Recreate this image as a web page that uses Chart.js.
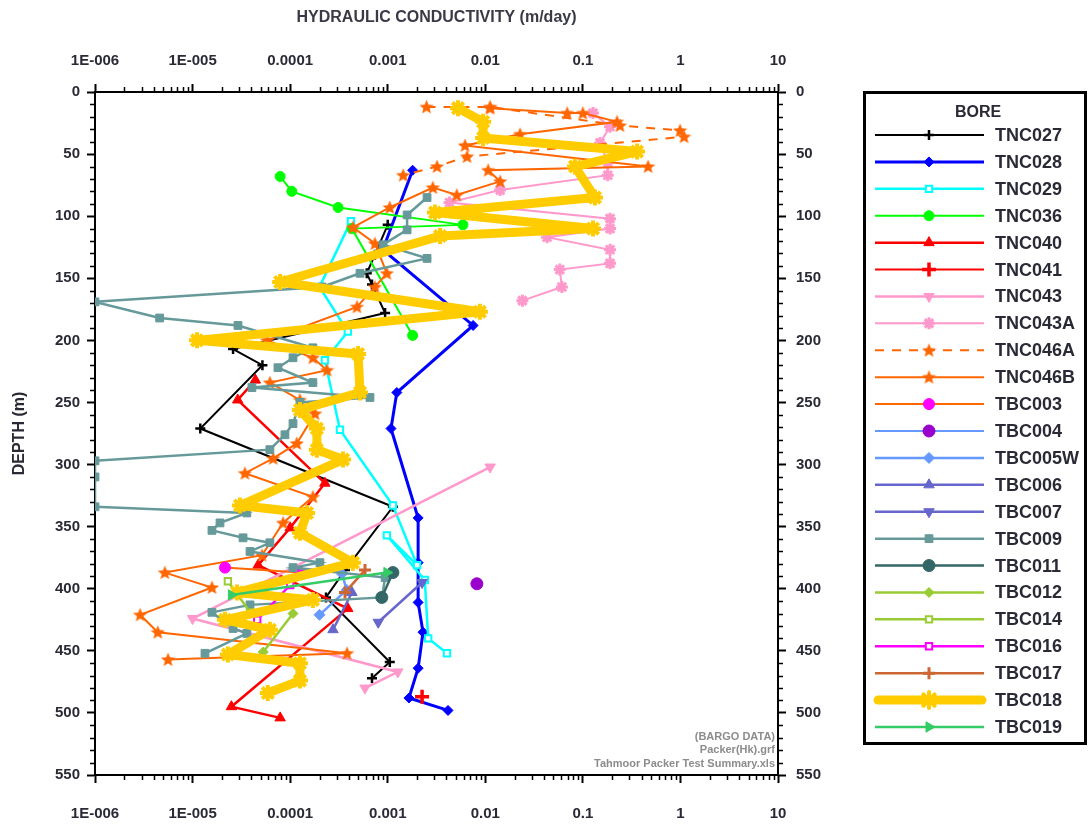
<!DOCTYPE html>
<html>
<head>
<meta charset="utf-8">
<script src="https://cdn.jsdelivr.net/npm/chart.js@4/dist/chart.umd.min.js"></script>
<style>
  html, body { margin: 0; padding: 0; background: #ffffff; }
  canvas { display: block; }
</style>
</head>
<body>
<canvas id="chart" width="1088" height="828"></canvas>
<script>
// Axis ticks
const xTickValues = [1e-6, 1e-5, 1e-4, 1e-3, 1e-2, 1e-1, 1, 10];
const xTickLabels = ['1E-006', '1E-005', '0.0001', '0.001', '0.01', '0.1', '1', '10'];
const depthTicks = [0, 50, 100, 150, 200, 250, 300, 350, 400, 450, 500, 550];

// Bores, in legend order
const boreNames = ['TNC027', 'TNC028', 'TNC029', 'TNC036', 'TNC040', 'TNC041', 'TNC043', 'TNC043A',
  'TNC046A', 'TNC046B', 'TBC003', 'TBC004', 'TBC005W', 'TBC006', 'TBC007', 'TBC009', 'TBC011',
  'TBC012', 'TBC014', 'TBC016', 'TBC017', 'TBC018', 'TBC019'];

// Test depth (m) and hydraulic conductivity (m/day) for each bore
const tnc027Depth = [107, 131, 146, 155, 178, 207, 220, 271, 334, 385, 407, 459, 472];
const tnc027K = [1.0e-3, 7.4e-4, 6.1e-4, 6.9e-4, 9.4e-4, 2.6e-5, 5.2e-5, 1.2e-5, 1.13e-3, 3.65e-4, 2.33e-4, 1.05e-3, 6.9e-4];

const tnc028Depth = [63, 127, 188, 242, 271, 343, 379, 411, 435, 464, 488, 498];
const tnc028K = [1.8e-3, 8.9e-4, 7.5e-3, 1.24e-3, 1.08e-3, 2.05e-3, 2.05e-3, 2.05e-3, 2.3e-3, 2.05e-3, 1.65e-3, 4.15e-3];

const tnc029Depth = [104, 157, 193, 216, 272, 333, 381, 357, 393, 440, 452];
const tnc029K = [4.2e-4, 2.0e-4, 3.9e-4, 2.27e-4, 3.24e-4, 1.13e-3, 2.0e-3, 9.8e-4, 2.4e-3, 2.6e-3, 4.05e-3];

const tnc036Depth = [68, 80, 93, 107, 110, 196];
const tnc036K = [7.9e-5, 1.04e-4, 3.1e-4, 5.9e-3, 4.3e-4, 1.8e-3];

const tnc040Depth = [232, 248, 315, 351, 381, 416, 495, 504];
const tnc040K = [4.4e-5, 2.9e-5, 2.27e-4, 1.0e-4, 4.7e-5, 3.9e-4, 2.5e-5, 7.9e-5];

const tnc041Depth = [487];
const tnc041K = [2.25e-3];

const tnc043Depth = [302, 424, 467, 480];
const tnc043K = [1.12e-2, 1.0e-5, 1.27e-3, 5.85e-4];

const tnc043aDepth = [17, 28, 41, 57, 67, 79, 89, 102, 110, 117, 127, 138, 143, 157, 168];
const tnc043aK = [0.127, 0.19, 0.15, 0.18, 0.18, 0.0142, 0.0043, 0.19, 0.19, 0.043, 0.19, 0.19, 0.058, 0.061, 0.024];

const tnc046aDepth = [12, 12, 27, 31, 36, 52, 60, 67];
const tnc046aK = [2.5e-3, 1.12e-2, 0.24, 0.99, 1.09, 6.5e-3, 3.2e-3, 1.44e-3];

const tnc046bDepth = [13, 17, 17, 24, 34, 43, 60, 63, 72, 83, 77, 93, 109, 122, 146, 157, 173, 200, 214, 224,
  234, 248, 259, 283, 295, 307, 326, 347, 373, 387, 399, 421, 435, 452, 457];
const tnc046bK = [1.12e-2, 6.9e-2, 0.1, 0.224, 2.27e-2, 6.2e-3, 0.466, 1.07e-2, 1.42e-2, 5.1e-3, 2.9e-3, 1.05e-3,
  4.4e-4, 7.4e-4, 9.8e-4, 7.4e-4, 4.84e-4, 5.8e-5, 1.71e-4, 2.39e-4, 6.2e-5, 1.26e-4, 1.8e-4, 1.17e-4, 6.7e-5,
  3.44e-5, 1.71e-4, 8.45e-5, 5.15e-5, 5.2e-6, 1.58e-5, 2.9e-6, 4.4e-6, 3.83e-4, 5.6e-6];

const tbc003Depth = [383, 387];
const tbc003K = [2.15e-5, 1.26e-4];

const tbc004Depth = [396];
const tbc004K = [8.2e-3];

const tbc005wDepth = [388, 401, 421];
const tbc005wK = [3.4e-4, 3.8e-4, 2.0e-4];

const tbc006Depth = [403, 433];
const tbc006K = [4.3e-4, 2.75e-4];

const tbc007Depth = [395, 427];
const tbc007K = [2.25e-3, 8.0e-4];

const tbc009Depth = [85, 99, 111, 123, 134, 146, 157, 169, 182, 188, 206, 214, 222, 234, 238, 246, 250, 267, 276, 288,
  297, 310, 334, 339, 347, 353, 359, 363, 370, 379, 383, 391, 407, 413, 419, 432, 436, 452];
const tbc009K = [2.53e-3, 1.58e-3, 1.58e-3, 8.95e-4, 2.53e-3, 5.2e-4, 2.12e-4, 1e-6, 4.6e-6, 2.92e-5,
  1.71e-4, 1.07e-4, 7.5e-5, 1.71e-4, 4.06e-5, 6.58e-4, 1.26e-4, 1.07e-4, 8.85e-5, 6.2e-5,
  1e-6, 1e-6, 1e-6, 3.6e-5, 1.91e-5, 1.58e-5, 3.29e-5, 6.2e-5, 3.88e-5, 2.02e-4,
  1.07e-4, 9.4e-4, 8.75e-4, 3.88e-5, 1.58e-5, 2.6e-5, 3.6e-5, 1.34e-5];

const tbc011Depth = [387, 407];
const tbc011K = [1.13e-3, 8.7e-4];

const tbc012Depth = [420, 451];
const tbc012K = [1.07e-4, 5.3e-5];

const tbc014Depth = [394, 419];
const tbc014K = [2.3e-5, 3.9e-5];

const tbc016Depth = [397, 425];
const tbc016K = [1.0e-4, 4.6e-5];

const tbc017Depth = [385, 403];
const tbc017K = [5.85e-4, 3.65e-4];

const tbc018Depth = [13, 24, 37, 48, 60, 85, 97, 110, 116, 153, 177, 200, 211, 242, 256, 271, 288, 296, 333, 339,
  355, 379, 403, 409, 425, 433, 453, 460, 474, 484];
const tbc018K = [5.25e-3, 9.5e-3, 9.5e-3, 0.359, 0.083, 0.133, 3.05e-3, 0.127, 3.44e-3, 7.9e-5,
  8.8e-3, 1.11e-5, 4.97e-4, 5.2e-4, 1.26e-4, 1.88e-4, 1.88e-4, 3.48e-4, 3.06e-5, 1.49e-4,
  1.26e-4, 4.4e-4, 2.85e-5, 1.71e-4, 2.15e-5, 6.2e-5, 2.3e-5, 1.26e-4, 1.26e-4, 5.9e-5];

const tbc019Depth = [387, 405];
const tbc019K = [9.8e-4, 2.5e-5];

const boreDepths = [tnc027Depth, tnc028Depth, tnc029Depth, tnc036Depth, tnc040Depth, tnc041Depth, tnc043Depth,
  tnc043aDepth, tnc046aDepth, tnc046bDepth, tbc003Depth, tbc004Depth, tbc005wDepth, tbc006Depth, tbc007Depth,
  tbc009Depth, tbc011Depth, tbc012Depth, tbc014Depth, tbc016Depth, tbc017Depth, tbc018Depth, tbc019Depth];
const boreK = [tnc027K, tnc028K, tnc029K, tnc036K, tnc040K, tnc041K, tnc043K, tnc043aK, tnc046aK, tnc046bK,
  tbc003K, tbc004K, tbc005wK, tbc006K, tbc007K, tbc009K, tbc011K, tbc012K, tbc014K, tbc016K, tbc017K,
  tbc018K, tbc019K];

// Five-pointed star marker used for the TNC046 bores
function makeStar(color, size) {
  const c = document.createElement('canvas');
  c.width = size; c.height = size;
  const g = c.getContext('2d');
  g.fillStyle = color;
  g.beginPath();
  for (let i = 0; i < 10; i++) {
    const r = i % 2 ? size * 0.22 : size * 0.5;
    const a = -Math.PI / 2 + i * Math.PI / 5;
    const px = size / 2 + r * Math.cos(a), py = size / 2 + 0.5 + r * Math.sin(a);
    if (i === 0) g.moveTo(px, py); else g.lineTo(px, py);
  }
  g.closePath();
  g.fill();
  return c;
}
const orangeStar = makeStar('#ff6600', 15);

// Line and marker style per bore
const boreStyles = [
  { line: '#000000', lw: 2,   ps: 'cross',    r: 5,   fill: '#000000', edge: '#000000', bw: 2.5 },
  { line: '#0000ff', lw: 3,   ps: 'rectRot',  r: 5,   fill: '#0000ff', edge: '#0000ff', bw: 1 },
  { line: '#00ffff', lw: 2.5, ps: 'rect',     r: 4.5, fill: '#ffffff', edge: '#00ffff', bw: 2 },
  { line: '#00ff00', lw: 2,   ps: 'circle',   r: 5,   fill: '#00ff00', edge: '#00ff00', bw: 1 },
  { line: '#ff0000', lw: 2.5, ps: 'triangle', r: 6,   fill: '#ff0000', edge: '#ff0000', bw: 1 },
  { line: '#ff0000', lw: 2,   ps: 'cross',    r: 7,   fill: '#ff0000', edge: '#ff0000', bw: 3.5 },
  { line: '#ff99cc', lw: 2.5, ps: 'triangle', r: 6,   fill: '#ff99cc', edge: '#ff99cc', bw: 1, rot: 180 },
  { line: '#ff99cc', lw: 2,   ps: 'star',     r: 6,   fill: '#ff99cc', edge: '#ff99cc', bw: 3 },
  { line: '#ff6600', lw: 2,   ps: orangeStar, r: 7,   fill: '#ff6600', edge: '#ff6600', bw: 1, dash: [9, 8] },
  { line: '#ff6600', lw: 2,   ps: orangeStar, r: 7,   fill: '#ff6600', edge: '#ff6600', bw: 1 },
  { line: '#ff6600', lw: 2,   ps: 'circle',   r: 5.5, fill: '#ff00ff', edge: '#ff00ff', bw: 1 },
  { line: '#6699ff', lw: 2,   ps: 'circle',   r: 6,   fill: '#9900cc', edge: '#9900cc', bw: 1 },
  { line: '#6699ff', lw: 2.5, ps: 'rectRot',  r: 5.5, fill: '#6699ff', edge: '#6699ff', bw: 1 },
  { line: '#6666cc', lw: 2.5, ps: 'triangle', r: 6,   fill: '#6666cc', edge: '#6666cc', bw: 1 },
  { line: '#6666cc', lw: 2.5, ps: 'triangle', r: 6,   fill: '#6666cc', edge: '#6666cc', bw: 1, rot: 180 },
  { line: '#669999', lw: 2.5, ps: 'rect',     r: 5.5, fill: '#669999', edge: '#669999', bw: 1 },
  { line: '#336666', lw: 2.5, ps: 'circle',   r: 6,   fill: '#336666', edge: '#336666', bw: 1 },
  { line: '#99cc33', lw: 2.5, ps: 'rectRot',  r: 5,   fill: '#99cc33', edge: '#99cc33', bw: 1 },
  { line: '#99cc33', lw: 2.5, ps: 'rect',     r: 4.5, fill: '#ffffff', edge: '#99cc33', bw: 2 },
  { line: '#ff00ff', lw: 2.5, ps: 'rect',     r: 4.5, fill: '#ffffff', edge: '#ff00ff', bw: 2 },
  { line: '#cc6633', lw: 2.5, ps: 'cross',    r: 6,   fill: '#cc6633', edge: '#cc6633', bw: 3 },
  { line: '#ffcc00', lw: 9,   ps: 'star',     r: 8,   fill: '#ffcc00', edge: '#ffcc00', bw: 4, round: true },
  { line: '#33cc66', lw: 2.5, ps: 'triangle', r: 6,   fill: '#33cc66', edge: '#33cc66', bw: 1, rot: 90 }
];

const datasets = boreNames.map((name, i) => {
  const s = boreStyles[i];
  return {
    label: name,
    data: boreDepths[i].map((d, j) => ({ x: boreK[i][j], y: d })),
    borderColor: s.line,
    borderWidth: s.lw,
    borderDash: s.dash || [],
    borderJoinStyle: s.round ? 'round' : 'miter',
    borderCapStyle: s.round ? 'round' : 'butt',
    pointStyle: s.ps,
    pointRadius: s.r,
    pointRotation: s.rot || 0,
    pointBackgroundColor: s.fill,
    pointBorderColor: s.edge,
    pointBorderWidth: s.bw,
    tension: 0,
    fill: false,
    showLine: true,
    order: -i,
    xAxisID: 'x',
    yAxisID: 'y'
  };
});

const FONT = '"Liberation Sans", Arial, sans-serif';
const TEXT = '#2a2a36';

// Short outside ticks between the labelled ones
const minorTicks = {
  id: 'minorTicks',
  afterDraw(chart) {
    const ctx = chart.ctx, a = chart.chartArea, xs = chart.scales.x, ys = chart.scales.y;
    ctx.save();
    ctx.strokeStyle = '#000';
    ctx.lineWidth = 1.5;
    ctx.beginPath();
    for (let e = -6; e < 1; e++) {
      for (let m = 2; m <= 9; m++) {
        const px = Math.round(xs.getPixelForValue(m * Math.pow(10, e))) + 0.5;
        ctx.moveTo(px, a.top); ctx.lineTo(px, a.top - 5);
        ctx.moveTo(px, a.bottom); ctx.lineTo(px, a.bottom + 5);
      }
    }
    for (let d = 10; d < 550; d += 10) {
      if (d % 50 === 0) continue;
      const py = Math.round(ys.getPixelForValue(d)) + 0.5;
      ctx.moveTo(a.left, py); ctx.lineTo(a.left - 5, py);
      ctx.moveTo(a.right, py); ctx.lineTo(a.right + 5, py);
    }
    ctx.stroke();
    ctx.restore();
  }
};

// Source note in the lower right corner of the plot
const sourceNote = {
  id: 'sourceNote',
  afterDraw(chart) {
    const ctx = chart.ctx, a = chart.chartArea;
    ctx.save();
    ctx.fillStyle = '#8c8c8c';
    ctx.font = 'bold 11px ' + FONT;
    ctx.textAlign = 'right';
    ctx.textBaseline = 'middle';
    ctx.fillText('(BARGO DATA)', a.right - 3, 737);
    ctx.fillText('Packer(Hk).grf', a.right - 3, 750);
    ctx.fillText('Tahmoor Packer Test Summary.xls', a.right - 3, 764);
    ctx.restore();
  }
};

// Boxed legend with line samples and markers
const boreLegend = {
  id: 'boreLegend',
  afterDraw(chart) {
    const ctx = chart.ctx;
    ctx.save();
    ctx.strokeStyle = '#000';
    ctx.lineWidth = 3;
    ctx.strokeRect(864.5, 92.5, 221, 651);
    ctx.fillStyle = TEXT;
    ctx.font = 'bold 16px ' + FONT;
    ctx.textAlign = 'center';
    ctx.textBaseline = 'middle';
    ctx.fillText('BORE', 978, 113);
    const step = (727 - 135) / (chart.data.datasets.length - 1);
    chart.data.datasets.forEach((ds, i) => {
      const y = 135 + i * step;
      ctx.save();
      ctx.beginPath();
      ctx.setLineDash(ds.borderDash || []);
      ctx.strokeStyle = ds.borderColor;
      ctx.lineWidth = ds.borderWidth;
      ctx.lineCap = ds.borderCapStyle;
      const x0 = ds.borderWidth > 4 ? 878 : 875, x1 = ds.borderWidth > 4 ? 982 : 984;
      ctx.moveTo(x0, y); ctx.lineTo(x1, y);
      ctx.stroke();
      ctx.setLineDash([]);
      ctx.fillStyle = ds.pointBackgroundColor;
      ctx.strokeStyle = ds.pointBorderColor;
      ctx.lineWidth = ds.pointBorderWidth;
      Chart.helpers.drawPoint(ctx, {
        pointStyle: ds.pointStyle, radius: ds.pointRadius,
        rotation: ds.pointRotation, borderWidth: ds.pointBorderWidth
      }, 929, y);
      ctx.restore();
      ctx.fillStyle = TEXT;
      ctx.font = 'bold 18px ' + FONT;
      ctx.textAlign = 'left';
      ctx.textBaseline = 'middle';
      ctx.fillText(ds.label, 995, y + 1);
    });
    ctx.restore();
  }
};

const tickFont = { family: FONT, size: 15, weight: 'bold' };
const axisGrid = { display: true, drawOnChartArea: false, drawTicks: true, tickLength: 8, tickWidth: 2, tickColor: '#000' };
const axisBorder = { display: true, color: '#000', width: 2 };

function logAxis(position, extra) {
  return Object.assign({
    type: 'logarithmic', position: position, min: 1e-6, max: 10,
    grid: axisGrid, border: axisBorder,
    afterBuildTicks: s => { s.ticks = xTickValues.map(v => ({ value: v })); },
    ticks: { autoSkip: false, maxRotation: 0, color: TEXT, font: tickFont,
      callback: (v, i) => xTickLabels[i] }
  }, extra);
}
function depthAxis(position, extra) {
  return Object.assign({
    type: 'linear', position: position, min: 0, max: 550, reverse: true,
    grid: axisGrid, border: axisBorder,
    afterBuildTicks: s => { s.ticks = depthTicks.map(v => ({ value: v })); },
    ticks: { autoSkip: false, color: TEXT, font: tickFont, callback: v => String(v) }
  }, extra);
}

new Chart(document.getElementById('chart'), {
  type: 'line',
  data: { datasets: datasets },
  options: {
    responsive: false,
    animation: false,
    devicePixelRatio: 1,
    events: [],
    layout: { padding: 0 },
    plugins: { legend: { display: false }, tooltip: { enabled: false }, title: { display: false } },
    scales: {
      x: logAxis('bottom', {
        afterFit: s => { s.height = 828 - 775; },
        ticks: { autoSkip: false, maxRotation: 0, color: TEXT, font: tickFont, padding: 22,
          callback: (v, i) => xTickLabels[i] }
      }),
      x2: logAxis('top', {
        afterFit: s => { s.height = 92; },
        ticks: { autoSkip: false, maxRotation: 0, color: TEXT, font: tickFont, padding: 14,
          callback: (v, i) => xTickLabels[i] },
        title: { display: true, text: 'HYDRAULIC CONDUCTIVITY (m/day)', color: '#3a3a46',
          font: { family: FONT, size: 16, weight: 'bold' }, padding: { top: 8, bottom: 0 } }
      }),
      y: depthAxis('left', {
        afterFit: s => { s.width = 95; },
        ticks: { autoSkip: false, color: TEXT, font: tickFont, padding: 7, callback: v => String(v) },
        title: { display: true, text: 'DEPTH (m)', color: TEXT,
          font: { family: FONT, size: 16, weight: 'bold' }, padding: { top: 10, bottom: 0 } }
      }),
      y2: depthAxis('right', {
        afterFit: s => { s.width = 1088 - 778; },
        ticks: { autoSkip: false, color: TEXT, font: tickFont, padding: 10, callback: v => String(v) }
      })
    }
  },
  plugins: [minorTicks, sourceNote, boreLegend]
});
</script>
</body>
</html>
